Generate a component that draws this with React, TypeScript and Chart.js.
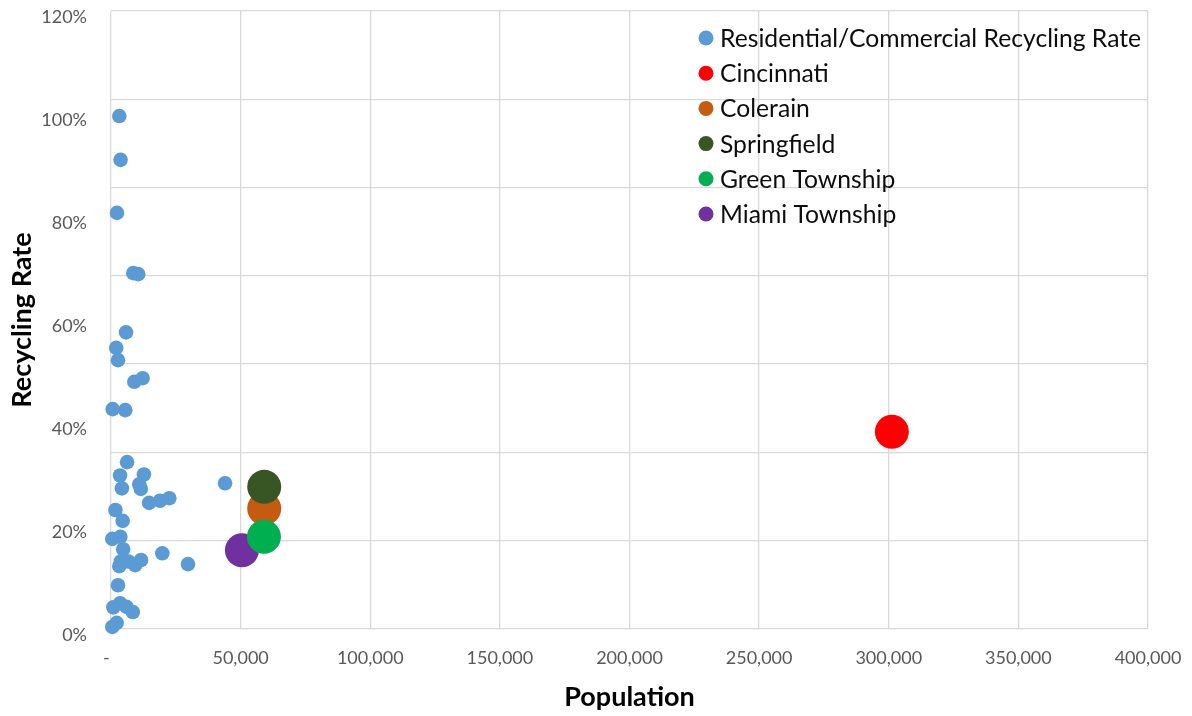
import React, { useEffect, useRef } from "react";
import { Chart, registerables } from "chart.js";

Chart.register(...registerables);

const FONT = "Lato";

// Residential/Commercial points (population, recycling rate)
const residentialPop = [
  3200, 3700, 2300, 8600, 10500, 5800, 2000, 2700, 9000, 12200, 650, 5500,
  6200, 3500, 12700, 4200, 10900, 11500, 14700, 18900, 22500, 44000, 1700,
  4500, 500, 3600, 4700, 3200, 3800, 6700, 9300, 11600, 19800, 29700, 2700,
  900, 3500, 6000, 8400, 500, 2200,
];
const residentialRate = [
  0.996, 0.911, 0.808, 0.691, 0.689, 0.576, 0.546, 0.522, 0.48, 0.487, 0.427,
  0.425, 0.324, 0.298, 0.3, 0.273, 0.281, 0.272, 0.245, 0.249, 0.254, 0.283,
  0.231, 0.21, 0.175, 0.179, 0.155, 0.122, 0.131, 0.131, 0.124, 0.134, 0.147,
  0.126, 0.085, 0.042, 0.05, 0.043, 0.033, 0.004, 0.012,
];

const cityNames = ["Cincinnati", "Colerain", "Springfield", "Green Township", "Miami Township"];
const cityPop = [301200, 59100, 59100, 59000, 50500];
const cityRate = [0.383, 0.234, 0.276, 0.179, 0.153];
const cityColors = ["#FF0000", "#C55A11", "#375623", "#00B050", "#7030A0"];
const cityOrder = [9, 7, 6, 5, 8];

const residentialLabel = "Residential/Commercial Recycling Rate";
const residentialColor = "#5B9BD5";

const xTicks = [0, 50000, 100000, 150000, 200000, 250000, 300000, 350000, 400000];
const yTicks = [0, 0.2, 0.4, 0.6, 0.8, 1.0, 1.2];

const legendPlugin = {
  id: "customLegend",
  afterDatasetsDraw(chart: any) {
    const ctx = chart.ctx;
    const items = [
      { label: residentialLabel, color: residentialColor },
      ...cityNames.map((n, i) => ({ label: n, color: cityColors[i] })),
    ];
    ctx.save();
    ctx.font = `24.7px ${FONT}`;
    ctx.textBaseline = "middle";
    ctx.textAlign = "left";
    items.forEach((it, i) => {
      const y = 38 + i * 35.2;
      ctx.beginPath();
      ctx.arc(706, y, 7.5, 0, Math.PI * 2);
      ctx.fillStyle = it.color;
      ctx.fill();
      ctx.fillStyle = "#0D0D0D";
      ctx.fillText(it.label, 720, y + 1);
    });
    ctx.restore();
  },
};

export default function App() {
  const ref = useRef<HTMLCanvasElement | null>(null);
  useEffect(() => {
    if (!ref.current) return;
    const datasets: any[] = [
      {
        label: residentialLabel,
        data: residentialPop.map((x, i) => ({ x, y: residentialRate[i] })),
        backgroundColor: residentialColor,
        borderColor: residentialColor,
        pointRadius: 7.3,
        borderWidth: 0,
        order: 10,
        clip: false,
      },
      ...cityNames.map((n, i) => ({
        label: n,
        data: [{ x: cityPop[i], y: cityRate[i] }],
        backgroundColor: cityColors[i],
        borderColor: cityColors[i],
        pointRadius: 17,
        borderWidth: 0,
        order: cityOrder[i],
        clip: false,
      })),
    ];
    const zeroPad = (s: any) => {
      s.paddingTop = 0;
      s.paddingBottom = 0;
      s.paddingLeft = 0;
      s.paddingRight = 0;
    };
    const chart = new Chart(ref.current, {
      type: "scatter",
      data: { datasets },
      plugins: [legendPlugin],
      options: {
        animation: false,
        responsive: false,
        layout: { autoPadding: false, padding: { top: 11, right: 44, left: 0, bottom: 0 } },
        plugins: { legend: { display: false }, tooltip: { enabled: false } },
        scales: {
          x: {
            type: "linear",
            min: 0,
            max: 400000,
            afterBuildTicks: (s: any) => {
              s.ticks = xTicks.map((v) => ({ value: v }));
            },
            afterFit: (s: any) => {
              s.height = 87;
              zeroPad(s);
            },
            grid: { color: "#D9D9D9", lineWidth: 1.3, drawTicks: false },
            border: { display: false },
            ticks: {
              padding: 18,
              color: "#595959",
              font: { family: FONT, size: 18 },
              maxRotation: 0,
              autoSkip: false,
              callback: (v: any) => (Number(v) === 0 ? "-  " : Number(v).toLocaleString("en-US")),
            },
            title: {
              display: true,
              text: "Population",
              color: "#000",
              font: { family: FONT, size: 27, weight: "bold" },
              padding: { top: 0, bottom: 3 },
            },
          },
          y: {
            type: "linear",
            position: "left",
            min: 0,
            max: 1.2,
            afterBuildTicks: (s: any) => {
              s.ticks = yTicks.map((v) => ({ value: v }));
            },
            afterFit: (s: any) => {
              s.width = 111;
              zeroPad(s);
            },
            grid: { display: false, drawTicks: false },
            border: { display: false },
            ticks: {
              padding: 24,
              labelOffset: 6,
              color: "#595959",
              font: { family: FONT, size: 18 },
              callback: (v: any) => `${Math.round(Number(v) * 100)}%`,
            },
            title: {
              display: true,
              text: "Recycling Rate",
              color: "#000",
              font: { family: FONT, size: 27, weight: "bold" },
              padding: { top: 6, bottom: 0 },
            },
          },
          yg: {
            type: "linear",
            position: "right",
            min: 0,
            max: 7,
            afterBuildTicks: (s: any) => {
              s.ticks = [0, 1, 2, 3, 4, 5, 6, 7].map((v) => ({ value: v }));
            },
            afterFit: (s: any) => {
              s.width = 0;
              zeroPad(s);
            },
            grid: { color: "#D9D9D9", lineWidth: 1.3, drawTicks: false },
            border: { display: false },
            ticks: { display: false },
          },
        },
      } as any,
    });
    return () => chart.destroy();
  }, []);
  return (
    <div style={{ position: "fixed", left: 0, top: 0, width: 1192, height: 716, background: "#fff" }}>
      <canvas ref={ref} width={1192} height={716} style={{ display: "block" }} />
    </div>
  );
}
